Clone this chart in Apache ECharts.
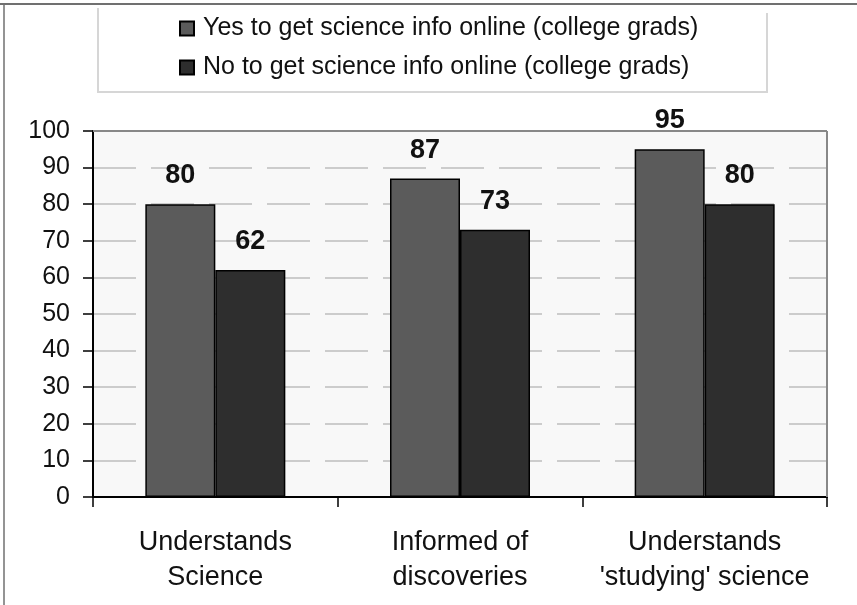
<!DOCTYPE html>
<html><head><meta charset="utf-8">
<script src="https://cdn.jsdelivr.net/npm/echarts@6/dist/echarts.min.js"></script>
<style>html,body{margin:0;padding:0;background:#fff}#c{width:857px;height:605px}</style>
</head><body><div id="c"></div>
<script>
var categories = ['Understands\nScience', 'Informed of\ndiscoveries', "Understands\n'studying' science"];
var seriesNames = ['Yes to get science info online (college grads)', 'No to get science info online (college grads)'];
var yesValues = [80, 87, 95];
var noValues = [62, 73, 80];
var yTicks = [0, 10, 20, 30, 40, 50, 60, 70, 80, 90, 100];

var FONT = 'Liberation Sans, Arial, sans-serif';
var chart = echarts.init(document.getElementById('c'), null, {renderer: 'canvas'});
var labelStyle = {show: true, position: 'top', distance: 15, fontFamily: FONT, fontSize: 27, fontWeight: 'bold', color: '#111'};
chart.setOption({
  animation: false,
  backgroundColor: '#fff',
  textStyle: {fontFamily: FONT},
  graphic: [
    {type: 'line', shape: {x1: 0, y1: 4, x2: 857, y2: 4}, style: {stroke: '#707070', lineWidth: 2}, z: 100},
    {type: 'line', shape: {x1: 4, y1: 4, x2: 4, y2: 605}, style: {stroke: '#707070', lineWidth: 1.5}, z: 100},
    {type: 'polyline', shape: {points: [[98, 8], [98, 92], [767, 92], [767, 13]]}, style: {fill: 'none', stroke: '#d6d6d6', lineWidth: 2}, z: 0},
    {type: 'line', shape: {x1: 93, y1: 131, x2: 827, y2: 131}, style: {stroke: '#888', lineWidth: 2}, z: 50},
    {type: 'line', shape: {x1: 827, y1: 131, x2: 827, y2: 497}, style: {stroke: '#888', lineWidth: 2}, z: 50}
  ],
  legend: {
    orient: 'vertical', left: 179, top: 16, itemGap: 14, padding: 0,
    itemWidth: 14, itemHeight: 14, icon: 'rect',
    textStyle: {fontFamily: FONT, fontSize: 25, lineHeight: 25, color: '#111', padding: [0, 0, 0, 4]},
    data: seriesNames
  },
  grid: {left: 93, right: 30, top: 131, bottom: 108, show: true, backgroundColor: '#f8f8f8', borderWidth: 0},
  xAxis: {
    type: 'category', data: categories,
    axisLine: {lineStyle: {color: '#000', width: 2}},
    axisTick: {show: true, length: 10, interval: 0, lineStyle: {color: '#000', width: 1.5}},
    axisLabel: {fontFamily: FONT, fontSize: 27, color: '#111', margin: 28, lineHeight: 35, interval: 0}
  },
  yAxis: {
    type: 'value', min: 0, max: 100, interval: 10,
    axisLine: {show: true, lineStyle: {color: '#000', width: 2}},
    axisTick: {show: true, length: 10, lineStyle: {color: '#000', width: 1.5}},
    axisLabel: {fontFamily: FONT, fontSize: 25, color: '#111', margin: 23,
      formatter: function (v) { return yTicks.indexOf(v) >= 0 ? String(v) : ''; }},
    splitLine: {show: true, lineStyle: {color: '#bdbdbd', width: 1.5, type: [43, 15]}}
  },
  series: [
    {name: seriesNames[0], type: 'bar', data: yesValues, barWidth: 70, barGap: '0%',
     itemStyle: {color: '#5b5b5b', borderColor: '#000', borderWidth: 1.5}, label: labelStyle},
    {name: seriesNames[1], type: 'bar', data: noValues, barWidth: 70,
     itemStyle: {color: '#2e2e2e', borderColor: '#000', borderWidth: 1.5}, label: labelStyle}
  ]
});
</script></body></html>
